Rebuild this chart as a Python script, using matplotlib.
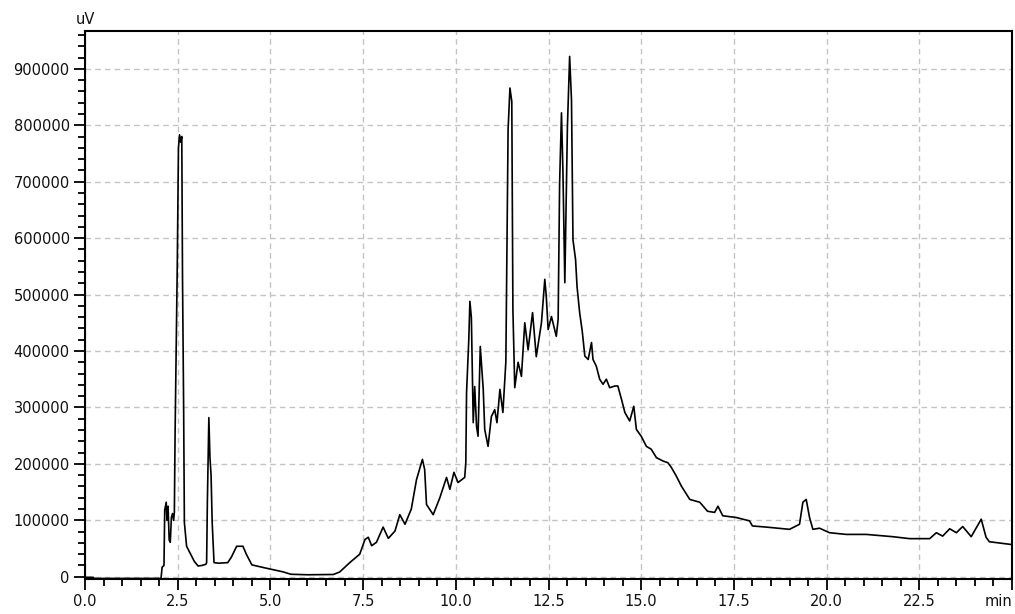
import matplotlib
matplotlib.use("Agg")
import matplotlib.pyplot as plt
from matplotlib.ticker import MultipleLocator, FixedLocator

# Retention time (min) and detector signal (uV)
time_min = [0.0, 0.22, 0.25, 2.05, 2.08, 2.13, 2.15, 2.19, 2.21, 2.24, 2.27, 2.30, 2.33, 2.36, 2.39,
            2.41, 2.43, 2.47, 2.49, 2.52, 2.55, 2.58, 2.61, 2.63, 2.66, 2.68, 2.74, 2.85, 2.95, 3.05,
            3.15, 3.26, 3.28, 3.30, 3.34, 3.37, 3.40, 3.43, 3.48, 3.6, 3.85, 3.95, 4.09, 4.26, 4.35,
            4.5, 4.9, 5.35, 5.55, 6.0, 6.7, 6.87, 7.14, 7.41, 7.55, 7.64, 7.73, 7.86, 8.04, 8.18,
            8.36, 8.49, 8.63, 8.80, 8.94, 9.10, 9.16, 9.21, 9.39, 9.57, 9.75, 9.84, 9.95, 10.06, 10.24,
            10.27, 10.29, 10.35, 10.38, 10.42, 10.47, 10.51, 10.56, 10.60, 10.66, 10.74, 10.78, 10.87, 10.96, 11.05,
            11.11, 11.19, 11.27, 11.35, 11.41, 11.46, 11.51, 11.54, 11.59, 11.68, 11.77, 11.86, 11.95, 12.07, 12.17,
            12.31, 12.40, 12.44, 12.49, 12.58, 12.71, 12.76, 12.80, 12.85, 12.89, 12.94, 13.01, 13.07, 13.12, 13.16,
            13.23, 13.27, 13.34, 13.41, 13.48, 13.57, 13.66, 13.70, 13.79, 13.88, 13.97, 14.06, 14.15, 14.29, 14.37,
            14.47, 14.56, 14.69, 14.80, 14.87, 15.0, 15.14, 15.27, 15.41, 15.59, 15.72, 15.81, 15.95, 16.08, 16.31,
            16.58, 16.79, 16.98, 17.07, 17.2, 17.56, 17.92, 18.0, 18.37, 19.0, 19.27, 19.36, 19.45, 19.54, 19.63,
            19.81, 20.08, 20.53, 21.07, 21.78, 22.24, 22.78, 22.96, 23.13, 23.32, 23.5, 23.67, 23.9, 24.17, 24.3,
            24.39, 24.93, 25.0]
signal_uv = [-1000, -1000, -3000, -3000, 17000, 20000, 118000, 132000, 100000, 125000, 65000, 61000, 105000, 112000, 100000,
             114000, 256000, 461000, 560000, 760000, 783000, 770000, 780000, 527000, 300000, 96000, 54000, 40000, 27000, 19000,
             20000, 22000, 25000, 132000, 282000, 211000, 180000, 96000, 25000, 24000, 25000, 35000, 54000, 54000, 40000,
             21000, 15000, 8500, 4400, 3500, 4000, 8500, 25000, 40000, 66000, 70000, 55000, 61000, 88000, 68000,
             81000, 110000, 93000, 120000, 172000, 208000, 190000, 128000, 110000, 140000, 176000, 155000, 185000, 167000, 176000,
             202000, 326000, 420000, 488000, 459000, 273000, 337000, 266000, 249000, 408000, 332000, 261000, 231000, 284000, 296000,
             273000, 332000, 291000, 381000, 792000, 866000, 842000, 473000, 335000, 380000, 355000, 450000, 402000, 468000, 390000,
             450000, 527000, 497000, 438000, 461000, 426000, 456000, 698000, 822000, 716000, 521000, 797000, 922000, 845000, 597000,
             562000, 514000, 468000, 435000, 391000, 385000, 415000, 385000, 373000, 350000, 341000, 350000, 335000, 338000, 338000,
             314000, 291000, 276000, 302000, 261000, 249000, 231000, 226000, 211000, 205000, 202000, 194000, 178000, 161000, 137000,
             132000, 116000, 114000, 125000, 108000, 105000, 99000, 90000, 88000, 84000, 93000, 132000, 137000, 105000, 84000,
             86000, 78000, 75000, 75000, 71000, 67500, 67500, 78000, 72000, 85000, 78000, 89000, 71000, 102000, 70000,
             62000, 57500, 57000]

x_ticks = [0.0, 2.5, 5.0, 7.5, 10.0, 12.5, 15.0, 17.5, 20.0, 22.5, 25.0]
x_tick_labels = ["0.0", "2.5", "5.0", "7.5", "10.0", "12.5", "15.0", "17.5", "20.0", "22.5", "min"]
y_ticks = [0, 100000, 200000, 300000, 400000, 500000, 600000, 700000, 800000, 900000]
y_tick_labels = ["0", "100000", "200000", "300000", "400000", "500000", "600000", "700000", "800000", "900000"]

W, H = 1015, 614
fig = plt.figure(figsize=(W / 100, H / 100), dpi=100)
ax = fig.add_axes([85 / W, (H - 579) / H, (1012 - 85) / W, (579 - 31) / H])

ax.plot(time_min, signal_uv, color="black", linewidth=1.2, zorder=3)

ax.set_xlim(0, 25)
ax.set_ylim(-4000, 967000)

ax.xaxis.set_major_locator(FixedLocator(x_ticks))
ax.set_xticklabels(x_tick_labels)
ax.xaxis.set_minor_locator(MultipleLocator(0.5))
ax.yaxis.set_major_locator(FixedLocator(y_ticks))
ax.set_yticklabels(y_tick_labels)
ax.yaxis.set_minor_locator(MultipleLocator(20000))

for lbl in ax.get_xticklabels():
    if lbl.get_text() == "min":
        lbl.set_horizontalalignment("right")

ax.tick_params(axis="both", which="major", direction="out", length=8, width=1.3,
               color="black", labelsize=10.5, pad=3)
ax.tick_params(axis="both", which="minor", direction="out", length=5, width=1.3, color="black")
for lbl in ax.get_xticklabels() + ax.get_yticklabels():
    lbl.set_family("DejaVu Sans")
    lbl.set_color("#111111")

ax.grid(True, which="major", color="#c4c4c4", linestyle=(0, (4, 3)), linewidth=1.0, zorder=0)
ax.set_axisbelow(True)

for side in ["left", "bottom", "top", "right"]:
    ax.spines[side].set_color("black")
    ax.spines[side].set_linewidth(1.5)

ax.text(0, 1.008, "uV", transform=ax.transAxes, ha="center", va="bottom",
        fontsize=10.5, color="#111111")

fig.savefig("out.png", dpi=100)
